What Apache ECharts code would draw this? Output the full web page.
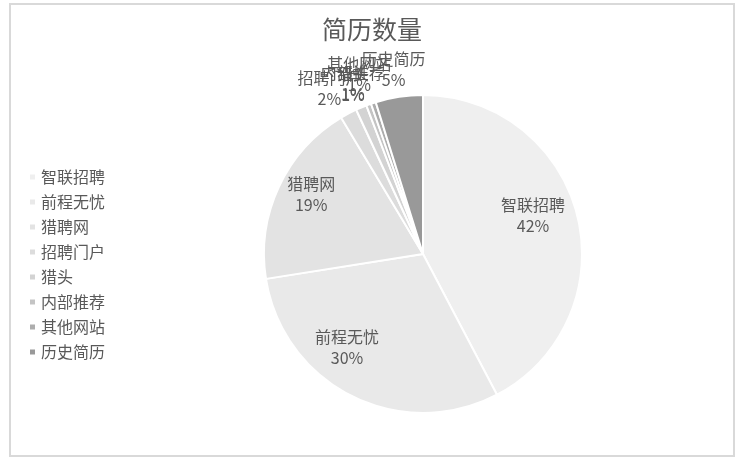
<!DOCTYPE html>
<html>
<head>
<meta charset="utf-8">
<script src="https://cdn.jsdelivr.net/npm/echarts@6/dist/echarts.min.js"></script>
<style>
html,body{margin:0;padding:0;background:#fff;}
#wrap{position:relative;width:744px;height:465px;}
#chart{position:absolute;left:0;top:0;width:744px;height:465px;}
#frame{position:absolute;left:9px;top:3px;width:722px;height:450px;border:2px solid #d9d9d9;pointer-events:none;}
</style>
</head>
<body>
<div id="wrap"><div id="chart"></div><div id="frame"></div></div>
<script>
// ---- data ----
const chartTitle = '简历数量';
const categories = ['智联招聘', '前程无忧', '猎聘网', '招聘门户', '猎头', '内部推荐', '其他网站', '历史简历'];
const shares = [42.3, 30.2, 18.9, 1.7, 1.1, 0.5, 0.5, 4.8];

// ---- styling ----
const sliceColors = ['#efefef', '#e9e9e9', '#e3e3e3', '#dcdcdc', '#d3d3d3', '#c4c4c4', '#adadad', '#999999'];
const labelShift = [[30, -19], [-39, 20], [-37, -25], [-55, -93], [-38, -94], [-42, -93], [-38, -101], [-17, -103]];
const FONT = '"Noto Sans CJK SC", "Noto Sans", sans-serif';
const TEXT = '#595959';

const chart = echarts.init(document.getElementById('chart'), null, {renderer: 'canvas'});
chart.setOption({
  animation: false,
  color: sliceColors,
  title: {
    text: chartTitle,
    left: 'center',
    top: 12,
    textStyle: {fontFamily: FONT, fontSize: 25, fontWeight: 'normal', color: TEXT}
  },
  legend: {
    orient: 'vertical',
    left: 23,
    top: 164,
    icon: 'rect',
    itemWidth: 7,
    itemHeight: 7,
    itemGap: 9,
    textStyle: {fontFamily: FONT, fontSize: 16, color: TEXT, lineHeight: 16},
    data: categories
  },
  series: [{
    type: 'pie',
    center: [423, 254],
    radius: [0, 159],
    startAngle: 90,
    clockwise: true,
    avoidLabelOverlap: false,
    itemStyle: {borderColor: '#ffffff', borderWidth: 2},
    label: {
      position: 'inner',
      fontFamily: FONT,
      fontSize: 16,
      lineHeight: 21,
      color: TEXT,
      formatter: p => p.name + '\n' + Math.round(p.percent) + '%'
    },
    labelLine: {show: false},
    labelLayout: p => ({dx: labelShift[p.dataIndex][0], dy: labelShift[p.dataIndex][1]}),
    emphasis: {disabled: true},
    data: categories.map((c, i) => ({name: c, value: shares[i]}))
  }]
});
</script>
</body>
</html>
